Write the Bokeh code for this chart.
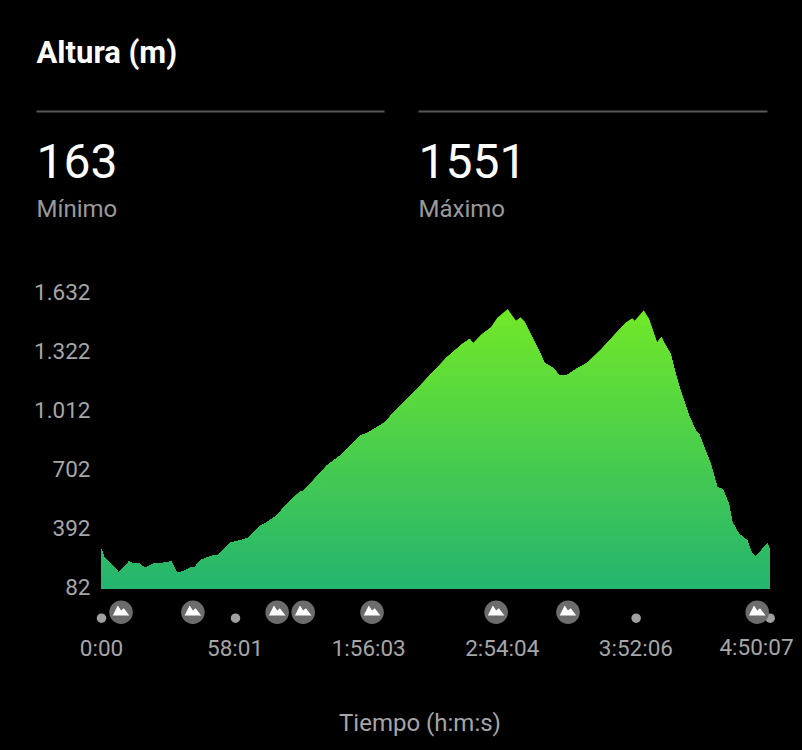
from bokeh.plotting import figure
from bokeh.models import Label, BoxAnnotation, FixedTicker, Range1d, LinearAxis
from bokeh.embed import file_html
from bokeh.resources import INLINE
import numpy as np

# ---- data -------------------------------------------------------------
title_text = "Altura (m)"
stats_values = ["163", "1551"]
stats_names = ["Mínimo", "Máximo"]
x_label_text = "Tiempo (h:m:s)"

time_min = [0, 1.0, 4.6, 6.1, 7.5, 11.9, 13.3, 16.1, 18.7, 23.4, 25.6, 30.3, 32.8, 35.6, 39.4, 40.3,
            43.0, 48.8, 50.2, 56.0, 60.4, 63.3, 69.1, 72.0, 76.3, 79.9, 86.4, 87.6, 98.0, 103.8, 112.5,
            115.4, 123.3, 126.9, 136.4, 138.5, 150.1, 156.6, 159.9, 161.4, 165.3, 169.2, 172.1, 176.4,
            180.1, 181.9, 183.7, 189.9, 192.4, 196.4, 198.6, 202.3, 206.6, 211.0, 216.7, 224.0, 227.6,
            230.5, 231.5, 235.5, 237.7, 241.3, 243.2, 244.2, 247.1, 249.3, 251.4, 255.1, 258.0, 259.4,
            264.5, 267.4, 269.8, 272.4, 273.9, 276.8, 280.4, 282.2, 284.0, 289.1, 290.12]
elevation_m = [288, 248, 204, 187, 163, 222, 215, 216, 190, 216, 213, 224, 164, 173, 195, 190,
               231, 257, 253, 322, 336, 345, 410, 430, 466, 518, 592, 592, 728, 781, 886,
               898, 956, 1008, 1122, 1149, 1297, 1366, 1393, 1369, 1418, 1453, 1506, 1551,
               1488, 1506, 1483, 1334, 1267, 1238, 1204, 1204, 1238, 1267, 1334, 1430, 1477,
               1501, 1488, 1544, 1501, 1372, 1404, 1376, 1315, 1210, 1122, 991, 912, 895,
               737, 614, 602, 527, 430, 369, 334, 273, 246, 317, 291]

y_ticks = [82, 392, 702, 1012, 1322, 1632]
y_labels = ["82", "392", "702", "1.012", "1.322", "1.632"]
x_ticks = [0, 58.02, 116.05, 174.07, 232.1]
x_labels = ["0:00", "58:01", "1:56:03", "2:54:04", "3:52:06"]
x_last_label = "4:50:07"

climb_times = [8.5, 39.7, 76.3, 87.6, 117.5, 171.4, 202.6, 284.8]
dot_times = [0, 58.2, 232.2, 290.4]

# ---- layout helpers ----------------------------------------------------
W, H = 802, 750
X0, Y0 = 101, 588                # page pixel of time 0 and of 82 m
M_PER_PX = 1550 / 295
MIN_PER_PX = 290.12 / 668
LANE_CLIMB = 82 - (611.7 - Y0) * M_PER_PX
LANE_DOT = 82 - (617.7 - Y0) * M_PER_PX
AXIS_Y = 82 - (630 - Y0) * M_PER_PX
Y_LO = 82 - (H - Y0) * M_PER_PX
Y_HI = 82 + Y0 * M_PER_PX
LABEL_NUDGE = 2 * M_PER_PX       # the value labels sit 2 px above their level

p = figure(width=W, height=H, output_backend="svg", toolbar_location=None,
           x_range=Range1d(-X0 * MIN_PER_PX, (W - X0) * MIN_PER_PX),
           y_range=Range1d(Y_LO, Y_HI),
           background_fill_color="#000000", border_fill_color="#000000",
           min_border=0, outline_line_color=None)
p.grid.visible = False
p.extra_y_ranges = {"labels": Range1d(Y_LO - LABEL_NUDGE, Y_HI - LABEL_NUDGE)}
p.yaxis.visible = False
yax = LinearAxis(y_range_name="labels")
p.add_layout(yax, "left")

# ---- axes --------------------------------------------------------------
FONT = "Roboto"
for ax in (p.xaxis[0], yax):
    ax.axis_line_color = None
    ax.major_tick_line_color = None
    ax.minor_tick_line_color = None
    ax.major_tick_out = 0
    ax.major_tick_in = 0
    ax.minor_tick_out = 0
    ax.major_label_text_color = "#a6a6a6"
    ax.major_label_text_font = FONT
    ax.major_label_text_font_size = "22.5px"
yax.fixed_location = 0
yax.ticker = FixedTicker(ticks=y_ticks)
yax.major_label_overrides = dict(zip(y_ticks, y_labels))
yax.major_label_standoff = 11
p.xaxis[0].fixed_location = AXIS_Y
p.xaxis[0].ticker = FixedTicker(ticks=x_ticks)
p.xaxis[0].major_label_overrides = dict(zip(x_ticks, x_labels))
p.xaxis[0].major_label_standoff = 4

# ---- gradient area: painted from the top colour downward ---------------
t = np.array(time_min)
e = np.array(elevation_m, dtype=float)
TOP = np.array([112, 232, 40])
BOT = np.array([36, 180, 112])
caps = np.linspace(1551, 82, 75)[:-1]
for cap in caps:
    f = (cap - 82) / (1551 - 82)
    c = BOT + (TOP - BOT) * f
    col = "#%02x%02x%02x" % tuple(int(round(v)) for v in c)
    p.varea(x=t, y1=np.full(len(t), 82.0), y2=np.minimum(e, cap), fill_color=col)

# ---- markers -----------------------------------------------------------
p.scatter(dot_times, [LANE_DOT] * len(dot_times), size=9.5, fill_color="#a0a0a0", line_color=None)
p.scatter(climb_times, [LANE_CLIMB] * len(climb_times), size=23.5, fill_color="#6c6c6c", line_color=None)
shape = [(-8.3, 3.3), (-3.3, -6.7), (0, -1.7), (2.7, -4), (8.3, 3.3)]
xs = [[c + dx * MIN_PER_PX for dx, _ in shape] for c in climb_times]
ys = [[LANE_CLIMB - dy * M_PER_PX for _, dy in shape] for _ in climb_times]
p.patches(xs, ys, fill_color="#ffffff", line_color=None)

# ---- texts and rules ---------------------------------------------------
def text(s, x, base, size, color, weight="normal", align="left"):
    px = float(size[:-2])
    p.add_layout(Label(x=x, y=H - base + 0.41 * px, x_units="screen", y_units="screen", text=s,
                       text_font=FONT, text_font_size=size, text_color=color,
                       text_font_style=weight, text_align=align, text_baseline="alphabetic"))

text(title_text, 36, 65, "31px", "#ffffff", "bold")
text(stats_values[0], 36, 180, "48px", "#ffffff")
text(stats_values[1], 418, 180, "48px", "#ffffff")
text(stats_names[0], 36, 218, "24px", "#9a9a9a")
text(stats_names[1], 418, 218, "24px", "#9a9a9a")
text(x_label_text, 419.5, 732, "24px", "#a6a6a6", align="center")
text(x_last_label, 756, 656, "22.5px", "#a6a6a6", align="center")

for a, b in ((36, 384), (418, 767)):
    p.add_layout(BoxAnnotation(left=a, right=b, top=H - 110, bottom=H - 112,
                               left_units="screen", right_units="screen", top_units="screen",
                               bottom_units="screen", fill_color="#585858", fill_alpha=1, line_color=None))

html = file_html(p, INLINE).replace("<body>", '<body style="background:#000000">')
open("out.html", "w").write(html)
